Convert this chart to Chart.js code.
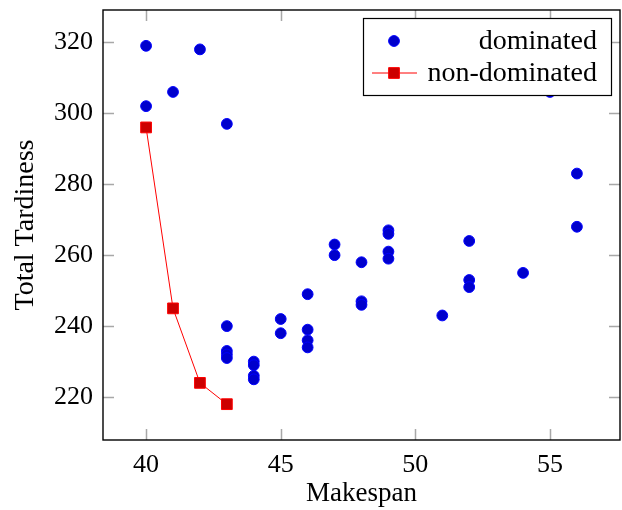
<!DOCTYPE html>
<html>
<head>
<meta charset="utf-8">
<script src="https://cdn.jsdelivr.net/npm/chart.js@4.4.0/dist/chart.umd.min.js"></script>
<style>
  html, body { margin: 0; padding: 0; background: #fff; overflow: hidden; }
  canvas { display: block; }
</style>
</head>
<body>
<canvas id="paretoChart" width="622" height="510"></canvas>
<script>
// dominated solutions (makespan, total tardiness)
const dominatedMakespan = [40, 40, 41, 42, 43, 43, 43, 43, 43, 44, 44, 44, 44, 45, 45, 46, 46, 46, 46,
  47, 47, 48, 48, 48, 49, 49, 49, 49, 51, 52, 52, 52, 54, 55, 56, 56];
const dominatedTardiness = [319, 302, 306, 318, 297, 240, 233, 232, 231, 230, 229, 226, 225, 242, 238, 249, 239, 236, 234,
  263, 260, 258, 247, 246, 267, 266, 261, 259, 243, 264, 253, 251, 255, 306, 283, 268];

// pareto front
const paretoMakespan = [40, 41, 42, 43];
const paretoTardiness = [296, 245, 224, 218];

const seriesNames = ['dominated', 'non-dominated'];
const xTicks = [40, 45, 50, 55];
const yTicks = [220, 240, 260, 280, 300, 320];
const xRange = [38.4, 57.6];
const yRange = [207.9, 329.1];

const toPoints = (xs, ys) => xs.map((x, i) => ({ x: x, y: ys[i] }));

const FONT = '"Liberation Serif", "Times New Roman", serif';

// no extra room for overhanging tick labels, the layout padding decides
const noScalePadding = scale => {
  scale.paddingTop = 0;
  scale.paddingBottom = 0;
  scale.paddingLeft = 0;
  scale.paddingRight = 0;
};

// frame + inner tick marks like pgfplots
const frameTicks = {
  id: 'frameTicks',
  afterDatasetsDraw(chart) {
    const { ctx, chartArea } = chart;
    const xs = chart.scales.x, ys = chart.scales.y;
    const len = 11;
    ctx.save();
    ctx.strokeStyle = '#a8a8a8';
    ctx.lineWidth = 1.5;
    ctx.beginPath();
    xTicks.forEach(v => {
      const px = Math.round(xs.getPixelForValue(v)) + 0.5;
      ctx.moveTo(px, chartArea.bottom); ctx.lineTo(px, chartArea.bottom - len);
      ctx.moveTo(px, chartArea.top); ctx.lineTo(px, chartArea.top + len);
    });
    yTicks.forEach(v => {
      const py = Math.round(ys.getPixelForValue(v)) + 0.5;
      ctx.moveTo(chartArea.left, py); ctx.lineTo(chartArea.left + len, py);
      ctx.moveTo(chartArea.right, py); ctx.lineTo(chartArea.right - len, py);
    });
    ctx.stroke();
    ctx.strokeStyle = '#000';
    ctx.lineWidth = 1.4;
    ctx.strokeRect(chartArea.left, chartArea.top, chartArea.right - chartArea.left, chartArea.bottom - chartArea.top);
    ctx.restore();
  }
};

// boxed legend in the top right corner, drawn over the marks
const legendBox = {
  id: 'legendBox',
  afterDatasetsDraw(chart) {
    const { ctx, chartArea } = chart;
    const w = 248, h = 77;
    const right = chartArea.right - 9;
    const top = chartArea.top + 8;
    const left = right - w;
    ctx.save();
    ctx.fillStyle = '#fff';
    ctx.fillRect(left, top, w, h);
    ctx.strokeStyle = '#000';
    ctx.lineWidth = 1.2;
    ctx.strokeRect(left + 0.5, top + 0.5, w, h);
    chart.data.datasets.forEach((ds, i) => {
      const cy = top + 23 + i * 32;
      const mx = left + 31;
      if (ds.showLine) {
        ctx.strokeStyle = ds.borderColor;
        ctx.lineWidth = ds.borderWidth;
        ctx.beginPath();
        ctx.moveTo(mx - 22, cy); ctx.lineTo(mx + 23, cy);
        ctx.stroke();
      }
      ctx.fillStyle = ds.pointBackgroundColor;
      ctx.strokeStyle = ds.pointBorderColor;
      ctx.lineWidth = ds.pointBorderWidth;
      Chart.helpers.drawPoint(ctx, {
        pointStyle: ds.pointStyle, radius: ds.pointRadius, rotation: 0, borderWidth: ds.pointBorderWidth
      }, mx, cy);
      ctx.fillStyle = '#000';
      ctx.font = '28px ' + FONT;
      ctx.textAlign = 'right';
      ctx.textBaseline = 'middle';
      ctx.fillText(ds.label, right - 14, cy + 1);
    });
    ctx.restore();
  }
};

const ctx = document.getElementById('paretoChart').getContext('2d');
const paretoChart = new Chart(ctx, {
  type: 'scatter',
  data: {
    datasets: [{
      label: seriesNames[0],
      data: toPoints(dominatedMakespan, dominatedTardiness),
      pointStyle: 'circle',
      pointRadius: 5.4,
      pointBackgroundColor: 'rgb(0,0,204)',
      pointBorderColor: 'rgb(0,0,255)',
      pointBorderWidth: 1,
      showLine: false,
      order: 1
    }, {
      label: seriesNames[1],
      data: toPoints(paretoMakespan, paretoTardiness),
      pointStyle: 'rect',
      pointRadius: 7.6,
      pointBackgroundColor: 'rgb(204,0,0)',
      pointBorderColor: 'rgb(255,0,0)',
      pointBorderWidth: 1,
      showLine: true,
      borderColor: 'rgb(255,0,0)',
      borderWidth: 1,
      tension: 0,
      order: 0
    }]
  },
  options: {
    responsive: false,
    animation: false,
    layout: { autoPadding: false, padding: { top: 10, right: 2, left: 0, bottom: 0 } },
    plugins: {
      legend: { display: false },
      tooltip: { enabled: false }
    },
    scales: {
      x: {
        type: 'linear',
        min: xRange[0],
        max: xRange[1],
        grid: { display: false, drawTicks: false },
        border: { display: false },
        afterBuildTicks: scale => { scale.ticks = xTicks.map(v => ({ value: v })); },
        afterFit: scale => { scale.height = 70; noScalePadding(scale); },
        ticks: {
          color: '#000',
          padding: 10,
          font: { family: FONT, size: 26 },
          callback: v => v
        },
        title: {
          display: true,
          text: 'Makespan',
          color: '#000',
          font: { family: FONT, size: 27 },
          padding: { top: 0, bottom: 0 }
        }
      },
      y: {
        type: 'linear',
        min: yRange[0],
        max: yRange[1],
        grid: { display: false, drawTicks: false },
        border: { display: false },
        afterBuildTicks: scale => { scale.ticks = yTicks.map(v => ({ value: v })); },
        afterFit: scale => { scale.width = 103; noScalePadding(scale); },
        ticks: {
          color: '#000',
          padding: 10,
          font: { family: FONT, size: 26 },
          callback: v => v
        },
        title: {
          display: true,
          text: 'Total Tardiness',
          color: '#000',
          font: { family: FONT, size: 28 },
          padding: { top: 9, bottom: 0 }
        }
      }
    }
  },
  plugins: [frameTicks, legendBox]
});
</script>
</body>
</html>
